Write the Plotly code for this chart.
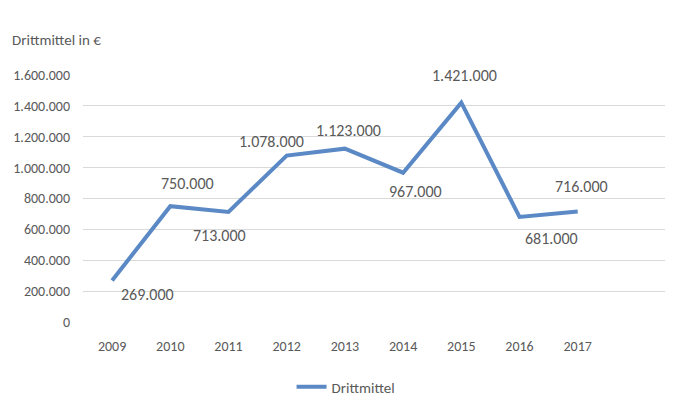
import plotly.graph_objects as go

years = ["2009", "2010", "2011", "2012", "2013", "2014", "2015", "2016", "2017"]
values = [269000, 750000, 713000, 1078000, 1123000, 967000, 1421000, 681000, 716000]
y_ticks = [0, 200000, 400000, 600000, 800000, 1000000, 1200000, 1400000, 1600000]

# label offsets (pixels) relative to each data point, as placed in the original
label_dx = [35, 17, -9, -15, 4, 12, 3, 32, 4]
label_dy = [-14, 23, -24, 14, 18, -19, 27, -22, 25]


def de(v):
    return f"{v:,}".replace(",", ".")


FONT = "Carlito, Lato, Liberation Sans, sans-serif"
GREY = "#595959"

xs = list(range(len(years)))

fig = go.Figure()
fig.add_trace(go.Scatter(
    x=xs, y=values, mode="lines", name="Drittmittel",
    line=dict(color="#5B89C5", width=4),
))

annots = [dict(text="Drittmittel in €", xref="paper", yref="paper",
               x=-0.126, y=1.142, xanchor="left", yanchor="middle",
               showarrow=False, font=dict(family=FONT, size=15, color=GREY))]
for x, v, dx, dy in zip(xs, values, label_dx, label_dy):
    annots.append(dict(x=x, y=v, xref="x", yref="y", text=de(v), showarrow=False,
                       xanchor="center", yanchor="middle", xshift=dx, yshift=dy,
                       font=dict(family=FONT, size=16, color=GREY)))

fig.update_layout(
    width=674, height=406,
    margin=dict(l=83, r=9, t=75, b=84, autoexpand=False),
    paper_bgcolor="white", plot_bgcolor="white",
    font=dict(family=FONT, color=GREY),
    showlegend=True,
    legend=dict(orientation="h", x=0.452, xanchor="center",
                yref="container", y=0.047, yanchor="middle",
                font=dict(family=FONT, size=15, color=GREY)),
    annotations=annots,
)
fig.update_xaxes(range=[-0.5, 9.5], tickvals=xs, ticktext=years, showgrid=False,
                 zeroline=False, showline=False, ticks="", ticklabelstandoff=14,
                 tickfont=dict(family=FONT, size=14, color=GREY))
fig.update_yaxes(range=[0, 1600000], tickvals=y_ticks, ticktext=[de(v) for v in y_ticks],
                 showgrid=True, gridcolor="#D9D9D9", gridwidth=1, zeroline=False,
                 showline=False, ticks="", ticklabelstandoff=12,
                 tickfont=dict(family=FONT, size=14, color=GREY))

fig.write_html("out.html")
